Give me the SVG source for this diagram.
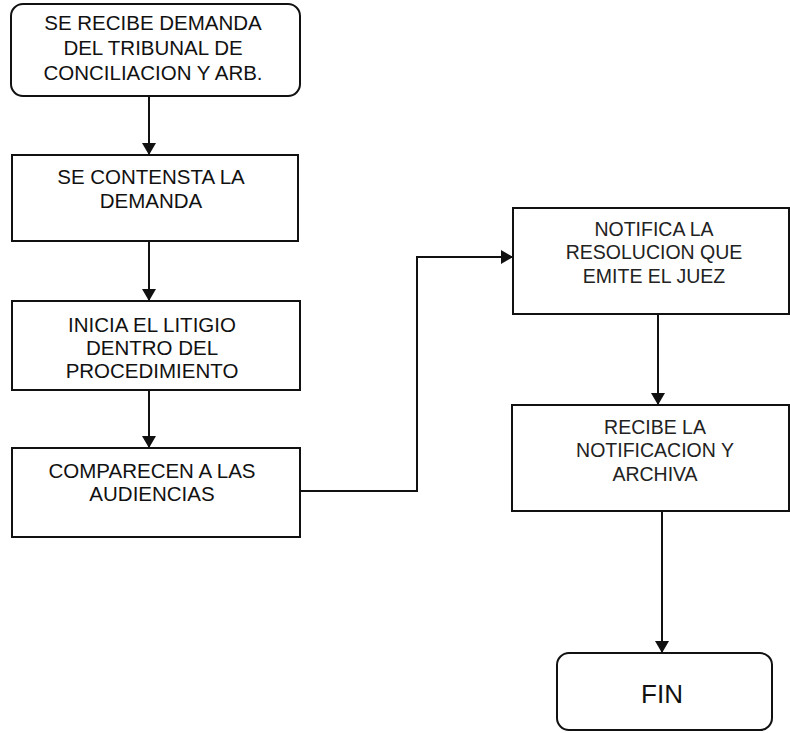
<svg xmlns="http://www.w3.org/2000/svg" width="790" height="733" viewBox="0 0 790 733">
<style>
.box{fill:#fff;stroke:#111;stroke-width:2}
.t{font-family:"Liberation Sans",Arial,sans-serif;font-size:20.5px;fill:#111;text-anchor:middle}
.tr{font-family:"Liberation Sans",Arial,sans-serif;font-size:19.5px;fill:#222;text-anchor:middle}
.c{fill:none;stroke:#111;stroke-width:2}
</style>
<defs>
<marker id="ah" viewBox="0 0 12 14" refX="12" refY="7" markerWidth="12" markerHeight="14" markerUnits="userSpaceOnUse" orient="auto">
<path d="M0,0 L12,7 L0,14 Z" fill="#111"/>
</marker>
</defs>
<rect width="790" height="733" fill="#fff"/>
<g id="n1">
<rect class="box" x="11" y="4" width="289" height="92" rx="12"/>
<text class="t" x="153" y="30">SE RECIBE DEMANDA</text>
<text class="t" x="153" y="55">DEL TRIBUNAL DE</text>
<text class="t" x="153" y="80">CONCILIACION Y ARB.</text>
</g>
<g id="n2">
<rect class="box" x="12" y="155" width="286" height="86"/>
<text class="t" x="151" y="184">SE CONTENSTA LA</text>
<text class="t" x="151" y="208">DEMANDA</text>
</g>
<g id="n3">
<rect class="box" x="12" y="301" width="288" height="89"/>
<text class="t" x="152" y="332">INICIA EL LITIGIO</text>
<text class="t" x="152" y="355">DENTRO DEL</text>
<text class="t" x="152" y="378">PROCEDIMIENTO</text>
</g>
<g id="n4">
<rect class="box" x="12" y="448" width="288" height="89"/>
<text class="t" x="152" y="478">COMPARECEN A LAS</text>
<text class="t" x="152" y="501">AUDIENCIAS</text>
</g>
<g id="n5">
<rect class="box" x="513" y="208" width="276" height="106"/>
<text class="tr" x="654" y="236">NOTIFICA LA</text>
<text class="tr" x="654" y="259">RESOLUCION QUE</text>
<text class="tr" x="654" y="283">EMITE EL JUEZ</text>
</g>
<g id="n6">
<rect class="box" x="512" y="405" width="277" height="106"/>
<text class="tr" x="655" y="434">RECIBE LA</text>
<text class="tr" x="655" y="457">NOTIFICACION Y</text>
<text class="tr" x="655" y="481">ARCHIVA</text>
</g>
<g id="n7">
<rect class="box" x="557" y="653" width="215" height="77" rx="12"/>
<text class="t" x="662" y="703" style="font-size:26px">FIN</text>
</g>
<g id="connectors">
<line class="c" x1="149" y1="96" x2="149" y2="155" marker-end="url(#ah)"/>
<line class="c" x1="149" y1="241" x2="149" y2="301" marker-end="url(#ah)"/>
<line class="c" x1="149" y1="390" x2="149" y2="448" marker-end="url(#ah)"/>
<polyline class="c" points="300,491 417,491 417,257 513,257" marker-end="url(#ah)"/>
<line class="c" x1="658" y1="314" x2="658" y2="405" marker-end="url(#ah)"/>
<line class="c" x1="662" y1="511" x2="662" y2="653" marker-end="url(#ah)"/>
</g>
</svg>
